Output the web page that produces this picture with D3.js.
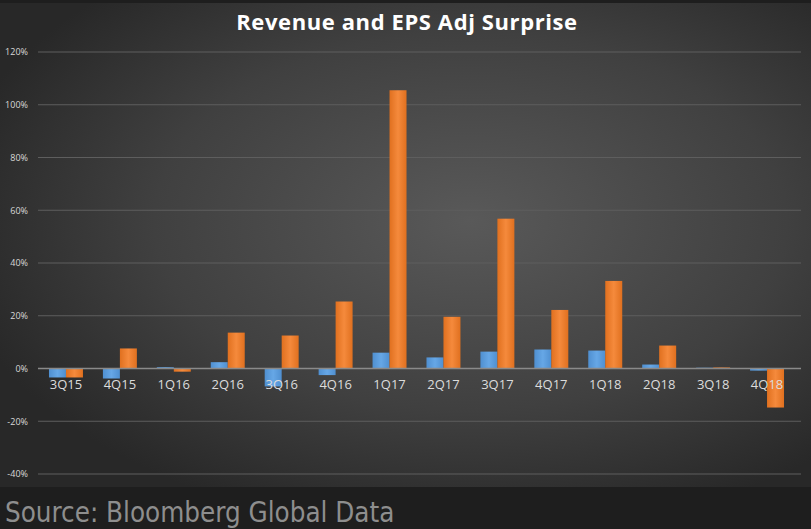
<!DOCTYPE html>
<html><head><meta charset="utf-8">
<script src="https://cdn.jsdelivr.net/npm/d3@7"></script>
<style>html,body{margin:0;padding:0;background:#1e1e1e;}svg{display:block;}</style>
</head><body>
<svg id="c" width="811" height="529"></svg>
<script>
const categories = ["3Q15","4Q15","1Q16","2Q16","3Q16","4Q16","1Q17","2Q17","3Q17","4Q17","1Q18","2Q18","3Q18","4Q18"];
const revenueSurprise = [-3.4,-3.8,0.5,2.4,-6.8,-2.5,6.0,4.2,6.4,7.2,6.8,1.5,0.3,-0.8];
const epsSurprise = [-3.4,7.6,-1.2,13.6,12.5,25.4,105.5,19.6,56.8,22.2,33.2,8.7,0.4,-14.8];
const yTicks = [-40,-20,0,20,40,60,80,100,120];
const title = "Revenue and EPS Adj Surprise";
const source = "Source: Bloomberg Global Data";

const W = 811, H = 529;
const svg = d3.select("#c");
const defs = svg.append("defs");
const rg = defs.append("radialGradient").attr("id","bg").attr("cx","58%").attr("cy","45%").attr("r","65%");
rg.append("stop").attr("offset","0%").attr("stop-color","#595959");
rg.append("stop").attr("offset","60%").attr("stop-color","#404040");
rg.append("stop").attr("offset","100%").attr("stop-color","#282828");
const gb = defs.append("linearGradient").attr("id","gblue").attr("x1","0").attr("x2","1");
gb.append("stop").attr("offset","0%").attr("stop-color","#4f8fd0");
gb.append("stop").attr("offset","50%").attr("stop-color","#66a7e6");
gb.append("stop").attr("offset","100%").attr("stop-color","#4f8fd0");
const go = defs.append("linearGradient").attr("id","gorange").attr("x1","0").attr("x2","1");
go.append("stop").attr("offset","0%").attr("stop-color","#e0701f");
go.append("stop").attr("offset","50%").attr("stop-color","#f58a3c");
go.append("stop").attr("offset","100%").attr("stop-color","#e0701f");

svg.append("rect").attr("width",W).attr("height",H).attr("fill","#1e1e1e");
svg.append("rect").attr("x",0).attr("y",3).attr("width",W).attr("height",484).attr("fill","url(#bg)");

const x0 = d3.scaleBand().domain(categories).range([39,794]).paddingInner(0.37).paddingOuter(0.185);
const x1 = d3.scaleBand().domain(["rev","eps"]).range([0,x0.bandwidth()]);
const y = d3.scaleLinear().domain([-40,120]).range([474,52]);

// gridlines
svg.append("g").selectAll("line").data(yTicks.filter(d=>d!==0)).join("line")
  .attr("x1",38).attr("x2",801).attr("y1",d=>y(d)).attr("y2",d=>y(d))
  .attr("stroke","#5e5e5e").attr("stroke-width",1);

// y axis labels
const yAxis = d3.axisLeft(y).tickValues(yTicks).tickFormat(d=>d+"%").tickSize(0).tickPadding(0);
const ya = svg.append("g").attr("transform","translate(28,0)").call(yAxis);
ya.select(".domain").remove();
ya.selectAll("text").attr("fill","#d8d8d8").attr("font-family","'Open Sans', sans-serif").attr("font-size",9);

// bars
const g = svg.append("g");
categories.forEach((c,i)=>{
  [["rev",revenueSurprise[i],"url(#gblue)"],["eps",epsSurprise[i],"url(#gorange)"]].forEach(([k,v,f])=>{
    g.append("rect")
      .attr("x",x0(c)+x1(k))
      .attr("width",x1.bandwidth())
      .attr("y",y(Math.max(0,v)))
      .attr("height",Math.abs(y(v)-y(0)))
      .attr("fill",f);
  });
});

// zero line
svg.append("line").attr("x1",38).attr("x2",801).attr("y1",y(0)).attr("y2",y(0))
  .attr("stroke","#8a8a8a").attr("stroke-width",1.5);

// category labels
const xAxis = d3.axisBottom(x0).tickSize(0).tickPadding(0);
const xa = svg.append("g").attr("transform",`translate(0,${y(0)+20})`).call(xAxis);
xa.select(".domain").remove();
xa.selectAll("text").attr("fill","#dcdcdc").attr("font-family","'Open Sans', sans-serif").attr("font-size",13).attr("dy","0");

// title
svg.append("text").attr("x",407).attr("y",30).attr("text-anchor","middle")
  .attr("fill","#ffffff").attr("font-family","'Open Sans', sans-serif").attr("font-weight","bold")
  .attr("font-size",22).attr("letter-spacing",0.6).text(title);

// source
svg.append("text").attr("x",5).attr("y",522)
  .attr("fill","#8e8e8e").attr("font-family","'DejaVu Sans Condensed','DejaVu Sans', sans-serif")
  .attr("font-stretch","condensed").attr("font-size",27.5).text(source);
</script>
</body></html>
